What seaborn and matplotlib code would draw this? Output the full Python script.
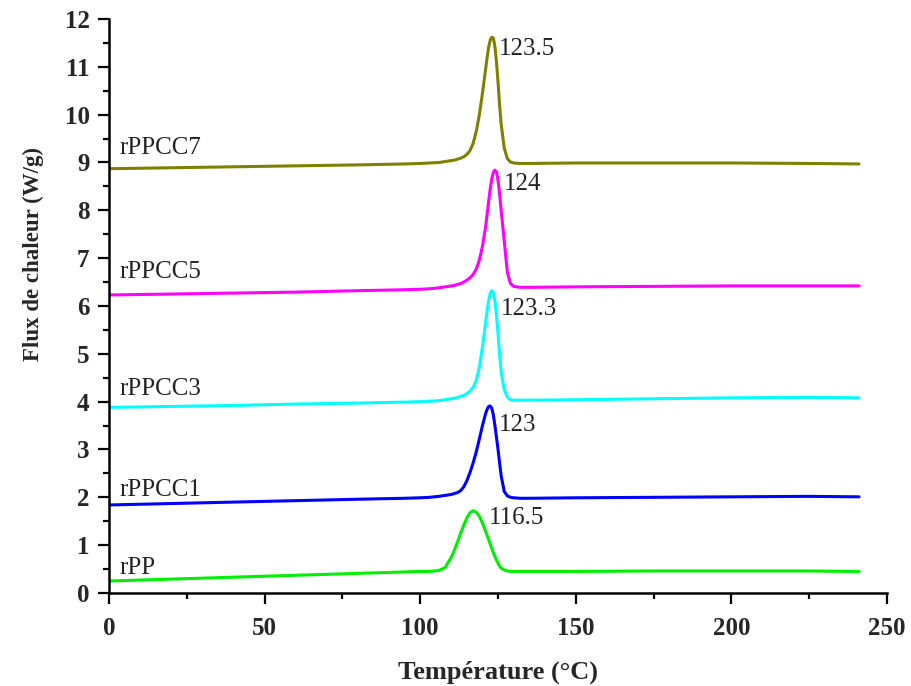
import matplotlib
matplotlib.use("Agg")
import pandas as pd
import seaborn as sns
import matplotlib.pyplot as plt
from matplotlib.ticker import MultipleLocator

# Temperature grid (°C) shared by all DSC curves
temperature = [0, 20, 40, 60, 80, 95, 100, 103, 106, 108, 110, 111, 112, 113, 114,
               115, 116, 117, 118, 119, 120, 121, 121.5, 122, 122.5, 123, 123.5,
               124, 124.5, 125, 125.5, 126, 127, 128, 129, 130, 132, 135, 150,
               175, 200, 225, 241]

# Heat flow (W/g)
rpp = [0.25, 0.29, 0.33, 0.37, 0.41, 0.44, 0.45, 0.45, 0.47, 0.53, 0.75, 0.90,
       1.07, 1.25, 1.42, 1.57, 1.68, 1.72, 1.69, 1.60, 1.46, 1.29, 1.20, 1.11,
       1.02, 0.93, 0.84, 0.76, 0.69, 0.62, 0.56, 0.52, 0.48, 0.46, 0.45, 0.45,
       0.45, 0.45, 0.45, 0.46, 0.46, 0.46, 0.45]
rppcc1 = [1.84, 1.87, 1.90, 1.93, 1.96, 1.98, 1.99, 2.00, 2.02, 2.04, 2.06, 2.08,
          2.10, 2.14, 2.22, 2.35, 2.52, 2.72, 2.95, 3.22, 3.50, 3.75, 3.84, 3.90,
          3.91, 3.86, 3.72, 3.50, 3.25, 3.00, 2.72, 2.45, 2.12, 2.03, 2.00, 1.99,
          1.98, 1.98, 1.99, 2.00, 2.01, 2.02, 2.01]
rppcc3 = [3.88, 3.90, 3.92, 3.95, 3.97, 3.99, 4.00, 4.01, 4.02, 4.04, 4.06, 4.07,
          4.09, 4.11, 4.13, 4.17, 4.22, 4.30, 4.45, 4.72, 5.15, 5.65, 5.90, 6.12,
          6.27, 6.32, 6.28, 6.10, 5.80, 5.42, 4.98, 4.62, 4.25, 4.09, 4.04, 4.03,
          4.03, 4.03, 4.04, 4.06, 4.08, 4.09, 4.08]
rppcc5 = [6.23, 6.25, 6.27, 6.29, 6.32, 6.34, 6.35, 6.36, 6.38, 6.40, 6.42, 6.43,
          6.45, 6.47, 6.50, 6.54, 6.59, 6.66, 6.77, 6.96, 7.25, 7.65, 7.92, 8.20,
          8.45, 8.66, 8.80, 8.84, 8.80, 8.62, 8.35, 8.00, 7.35, 6.70, 6.47, 6.41,
          6.39, 6.39, 6.40, 6.41, 6.42, 6.42, 6.42]
rppcc7 = [8.87, 8.89, 8.91, 8.93, 8.95, 8.97, 8.98, 8.99, 9.00, 9.02, 9.04, 9.05,
          9.07, 9.09, 9.12, 9.17, 9.25, 9.40, 9.65, 10.00, 10.45, 10.95, 11.20,
          11.42, 11.56, 11.62, 11.60, 11.42, 11.10, 10.68, 10.20, 9.80, 9.30,
          9.08, 9.01, 8.99, 8.98, 8.98, 8.99, 8.99, 8.99, 8.98, 8.97]

samples = ["rPP", "rPPCC1", "rPPCC3", "rPPCC5", "rPPCC7"]
colors = ["#00ee00", "#0000ff", "#00ffff", "#ff00ff", "#808000"]
peak_labels = ["116.5", "123", "123.3", "124", "123.5"]
peak_label_x = [122.2, 125.4, 125.8, 126.9, 125.3]
peak_label_y = [1.56, 3.51, 5.94, 8.54, 11.37]
name_label_y = [0.53, 2.15, 4.27, 6.71, 9.30]

curves = [rpp, rppcc1, rppcc3, rppcc5, rppcc7]
df = pd.concat([pd.DataFrame({"T": temperature, "flux": c, "sample": s})
                for s, c in zip(samples, curves)], ignore_index=True)

sns.set_theme(style="ticks")
plt.rcParams["font.family"] = ["Liberation Serif", "DejaVu Serif"]

fig = plt.figure(figsize=(9.11, 6.86), dpi=100)
ax = fig.add_axes([0.1197, 0.1356, 0.854, 0.8367])

sns.lineplot(data=df, x="T", y="flux", hue="sample", palette=colors,
             hue_order=samples, linewidth=2.2, legend=False, ax=ax, sort=False)

# curve names and peak temperatures
for name, ny, lab, lx, ly in zip(samples, name_label_y, peak_labels, peak_label_x, peak_label_y):
    ax.text(3.3, ny, name, fontsize=18, va="center", ha="left", color="#222222")
    ax.text(lx, ly, lab, fontsize=18, va="center", ha="left", color="#222222")

ax.set_xlim(0, 250)
ax.set_ylim(0, 12)
ax.xaxis.set_major_locator(MultipleLocator(50))
ax.xaxis.set_minor_locator(MultipleLocator(25))
ax.yaxis.set_major_locator(MultipleLocator(1))
ax.yaxis.set_minor_locator(MultipleLocator(0.5))

sns.despine(ax=ax)
for side in ["left", "bottom"]:
    ax.spines[side].set_linewidth(1.8)
    ax.spines[side].set_color("black")
ax.tick_params(which="major", direction="out", length=8, width=1.6, color="black")
ax.tick_params(which="minor", direction="out", length=4.5, width=1.6, color="black")
ax.tick_params(axis="x", which="major", pad=9)
ax.tick_params(axis="y", which="major", pad=6)
for lbl in ax.get_xticklabels() + ax.get_yticklabels():
    lbl.set_fontweight("bold")
    lbl.set_fontsize(18)

ax.set_xlabel("Température (°C)", fontsize=19, fontweight="bold")
ax.set_ylabel("Flux de chaleur (W/g)", fontsize=16.5, fontweight="bold")
ax.xaxis.set_label_coords(0.5, -0.118)
ax.yaxis.set_label_coords(-0.083, 0.59)

fig.savefig("out.png", dpi=100)
